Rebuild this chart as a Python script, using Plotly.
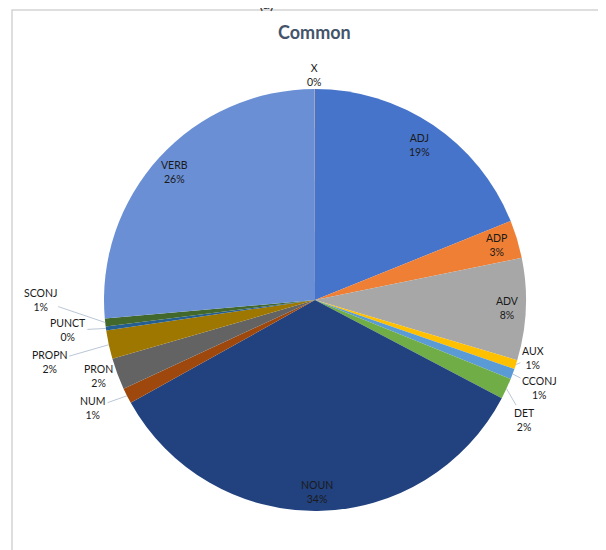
import math
import plotly.graph_objects as go

# ---- data ----
categories = ["ADJ", "ADP", "ADV", "AUX", "CCONJ", "DET", "NOUN",
              "NUM", "PRON", "PROPN", "PUNCT", "SCONJ", "VERB", "X"]
shares = [18.9, 2.9, 7.8, 0.7, 0.8, 1.6, 34.2,
          1.2, 2.4, 2.2, 0.3, 0.6, 26.38, 0.02]
colors = ["#4674CA", "#EF7F35", "#A7A7A7", "#FFC000", "#5B9BD5", "#70AD47", "#22427F",
          "#9E480E", "#636363", "#9E7700", "#255E91", "#43682B", "#6A8FD4", "#F1975A"]
title_text = "Common"

# ---- layout constants (screen pixels) ----
W, H = 606, 550
OFF = 8  # page body margin
CX, CY, R = 315, 300, 211

# label placement style: ("in", radius factor) | ("out", dx, dy, arrow)
label_style = {
    "ADJ": ("in", 0.885), "ADP": ("in", 0.9), "ADV": ("in", 0.915),
    "AUX": ("out", 17, -7, True), "CCONJ": ("out", 27, 14, True),
    "DET": ("out", 18, 31, True), "NOUN": ("in", 0.91),
    "NUM": ("out", -34, 12, True), "PRON": ("out", -19, 2, False),
    "PROPN": ("out", -59, 17, True), "PUNCT": ("out", -38, 2, True),
    "SCONJ": ("out", -65, -22, True), "VERB": ("in", 0.9),
    "X": ("out", 0, -14, False),
}


def to_paper(x, y):
    return (x - OFF) / W, 1 - (y - OFF) / H


x0, y0 = to_paper(CX - R, CY + R)
x1, y1 = to_paper(CX + R, CY - R)
fig = go.Figure(go.Pie(
    labels=categories, values=shares, sort=False, direction="clockwise",
    rotation=0, marker=dict(colors=colors, line=dict(width=0)),
    textinfo="none", hoverinfo="label+percent", showlegend=False,
    domain=dict(x=[x0, x1], y=[y0, y1]),
))

total = sum(shares)
cum = 0.0
annotations = []
font = dict(family="Lato, 'Open Sans', sans-serif", size=10.5, color="#1A1A1A")
for cat, v in zip(categories, shares):
    mid = (cum + v / 2) / total * 2 * math.pi
    cum += v
    pct = round(v / total * 100)
    txt = f"{cat}<br>{pct}%"
    st = label_style[cat]
    if st[0] == "in":
        rr = R * st[1]
        px, py = CX + rr * math.sin(mid), CY - rr * math.cos(mid)
        x, y = to_paper(px, py)
        annotations.append(dict(x=x, y=y, xref="paper", yref="paper", text=txt,
                                xanchor="center", yanchor="middle",
                                showarrow=False, font=font, align="center"))
    else:
        tx, ty = CX + R * math.sin(mid), CY - R * math.cos(mid)
        _, dx, dy, arrow = st
        if arrow:
            x, y = to_paper(tx, ty)
            annotations.append(dict(x=x, y=y, xref="paper", yref="paper", text=txt,
                                    showarrow=True, ax=dx, ay=dy, arrowhead=0,
                                    arrowwidth=0.8, arrowcolor="#A9B8CC",
                                    standoff=0, font=font, align="center"))
        else:
            x, y = to_paper(tx + dx, ty + dy)
            annotations.append(dict(x=x, y=y, xref="paper", yref="paper", text=txt,
                                    xanchor="center", yanchor="middle",
                                    showarrow=False, font=font, align="center"))

# title
tx, ty = to_paper(314, 32)
annotations.append(dict(x=tx, y=ty, xref="paper", yref="paper", text="<b>" + title_text + "</b>",
                        xanchor="center", yanchor="middle", showarrow=False,
                        font=dict(family="Lato, 'Open Sans', sans-serif", size=18, color="#44546A")))
# caption, mostly cut off at the top edge (as in the reference)
cx, cy = to_paper(266, 3)
annotations.append(dict(x=cx, y=cy, xref="paper", yref="paper", text="(a)",
                        xanchor="center", yanchor="middle", showarrow=False,
                        font=dict(family="Lato, sans-serif", size=15, color="#333333")))

fx0, fy1 = to_paper(12, 10)
fig.update_layout(
    width=W, height=H, margin=dict(l=0, r=0, t=0, b=0),
    paper_bgcolor="white", plot_bgcolor="white",
    annotations=annotations,
    shapes=[dict(type="rect", xref="paper", yref="paper", x0=fx0, y0=-0.2, x1=1.2, y1=fy1,
                 line=dict(color="#D4D4D4", width=1.5), layer="below")],
)

fig.write_html("out.html")
